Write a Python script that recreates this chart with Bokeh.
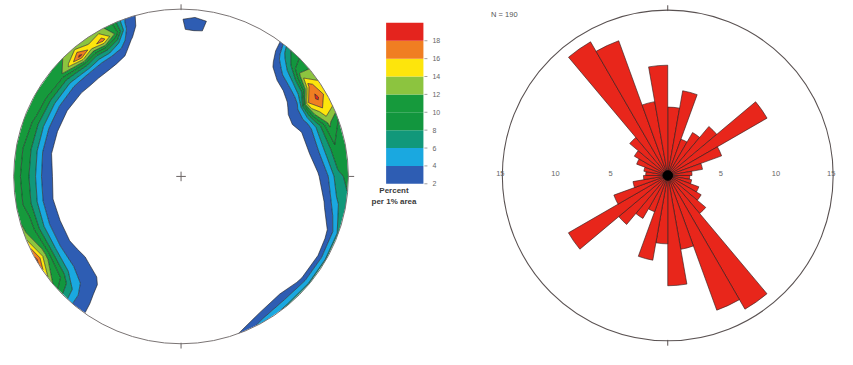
import numpy as np
from bokeh.plotting import figure
from bokeh.models import Range1d, ColumnDataSource
from bokeh.embed import file_html
from bokeh.resources import INLINE
from bokeh.core.properties import value

# ---------------- data ----------------
# Stereonet: density (percent per 1% area) sampled on a polar grid
NET_AZ = [0, 5, 10, 20, 35, 40, 45, 50, 55, 60, 65, 70, 80, 90, 100, 110, 120, 130,
          140, 150, 160, 170, 200, 210, 220, 230, 240, 250, 260, 270, 280, 290, 300,
          310, 315, 320, 325, 330, 335, 340, 345, 350]
NET_RHO = [0.60, 0.70, 0.76, 0.82, 0.88, 0.94, 1.00]
NET_DENSITY = [
    [0, 0, 0, 0, 1.9, 1.9, 0.2],      # 0
    [0, 0, 0, 0, 2.2, 2.6, 0.0],      # 5
    [0, 0, 0, 0, 1.9, 1.9, 0.2],      # 10
    [0, 0, 0, 0, 0, 0, 0],            # 20
    [0, 0, 0, 0, 0, 0, 0],            # 35
    [0, 0, 0.3, 1.2, 2.6, 5.0, 7.5],  # 40
    [0, 0, 0.7, 2.2, 5.0, 8.5, 10.0], # 45
    [0, 0.2, 1.0, 2.6, 6.5, 13.0, 12.0],  # 50
    [0, 0.5, 1.6, 3.2, 8.0, 17.0, 14.0],  # 55
    [0, 1.0, 2.5, 4.5, 16.0, 18.5, 15.0], # 60
    [0, 1.2, 2.6, 4.5, 12.0, 15.5, 14.0], # 65
    [0, 0.6, 1.8, 3.4, 7.5, 12.5, 10.0],  # 70
    [0, 0.3, 1.5, 3.0, 6.5, 9.5, 9.0],    # 80
    [0, 0, 0.5, 1.8, 4.0, 7.5, 8.5],      # 90
    [0, 0, 0, 0.8, 2.3, 5.5, 7.5],        # 100
    [0, 0, 0, 0, 1.0, 2.2, 6.5],          # 110
    [0, 0, 0, 0, 0.3, 1.6, 6.5],          # 120
    [0, 0, 0, 0, 0.5, 1.8, 6.5],          # 130
    [0, 0, 0, 0, 1.0, 2.6, 6.5],          # 140
    [0, 0, 0, 0, 0.5, 2.0, 5.0],          # 150
    [0, 0, 0, 0, 0, 0.5, 2.0],            # 160
    [0, 0, 0, 0, 0, 0, 0],                # 170
    [0, 0, 0, 0, 0, 0, 0],                # 200
    [0, 0, 0, 0, 0, 0.2, 0.3],            # 210
    [0, 0.6, 1.6, 2.6, 3.0, 3.4, 3.6],    # 220
    [0, 1.2, 2.2, 3.2, 6.0, 10.0, 12.0],  # 230
    [0, 0.8, 1.8, 3.2, 7.0, 12.5, 18.8],  # 240
    [0, 0.8, 1.8, 3.1, 6.5, 10.5, 12.5],  # 250
    [0, 0.6, 1.6, 3.0, 6.4, 9.5, 11.0],   # 260
    [0, 0.8, 1.8, 3.2, 6.6, 9.5, 11.0],   # 270
    [0, 0.4, 1.4, 2.8, 6.4, 9.5, 11.0],   # 280
    [0, 0.4, 1.4, 2.8, 6.3, 9.8, 11.5],   # 290
    [0, 0.4, 1.4, 2.8, 6.5, 10.5, 12.0],  # 300
    [0, 0.5, 1.6, 3.0, 6.8, 11.5, 12.0],  # 310
    [0, 0.6, 1.8, 3.3, 8.0, 14.5, 12.0],  # 315
    [0, 0.6, 1.8, 3.5, 9.0, 18.6, 13.0],  # 320
    [0, 0.6, 1.8, 3.4, 8.0, 15.0, 12.5],  # 325
    [0, 0.5, 1.6, 3.2, 8.5, 17.0, 13.0],  # 330
    [0, 0.2, 1.2, 2.6, 6.0, 12.0, 11.0],  # 335
    [0, 0, 0.3, 1.0, 2.2, 3.5, 4.2],      # 340
    [0, 0, 0, 0.3, 0.8, 1.2, 1.5],        # 345
    [0, 0, 0, 0, 0, 0, 0],                # 350
]
LEVELS = [2, 4, 6, 8, 10, 12, 14, 16, 18, 20]
LEVEL_LABELS = ["2", "4", "6", "8", "10", "12", "14", "16", "18"]
BAND_COLORS = ["#2e5db3", "#1aa8e0", "#11987a", "#12963e", "#169a3c",
               "#8cc43f", "#fde50c", "#f07e22", "#e4241e"]

# Rose diagram: percent per 10 degree bin, 0-180 (mirrored)
ROSE_BIN_START = [0, 10, 20, 30, 40, 50, 60, 70, 80, 90, 100, 110, 120, 130, 140, 150, 160, 170]
ROSE_VALUES = [6.2, 7.8, 3.5, 4.5, 5.8, 10.4, 5.2, 3.2, 2.2, 2.0, 2.2, 3.0, 3.5, 4.5,
               14.0, 13.0, 6.8, 10.0]
ROSE_RING_LABELS = [5, 10, 15]
ROSE_MAX = 15
N_LABEL = "N = 190"

# ---------------- layout ----------------
W, H = 837, 349
REF_W, REF_H = 853, 365
SX, SY = W / REF_W, H / REF_H
S = SY  # size scale


def fx(x):
    return np.asarray(x, dtype=float) * SX


def fy(y):
    return H - np.asarray(y, dtype=float) * SY


p = figure(width=W, height=H, output_backend="svg", toolbar_location=None,
           x_range=Range1d(0, W), y_range=Range1d(0, H),
           x_axis_location=None, y_axis_location=None, min_border=0)
p.outline_line_color = None
p.grid.visible = False
p.background_fill_color = "white"

FONT = value("Liberation Sans")

# ---------------- stereonet ----------------
ncx, ncy, nR = float(fx(184)), float(fy(184)), 175 * S
az = np.array(NET_AZ + [360], dtype=float)
z = np.array(NET_DENSITY + [NET_DENSITY[0]], dtype=float)
rho = np.array(NET_RHO)
A, RH = np.meshgrid(np.radians(az), rho, indexing="ij")
X = ncx + nR * RH * np.sin(A)
Y = ncy + nR * RH * np.cos(A)
p.contour(X, Y, z, levels=LEVELS, fill_color=BAND_COLORS,
          line_color="#1c1c1c", line_width=0.6)

p.circle(x=[ncx], y=[ncy], radius=nR, fill_color=None, line_color="#7a7474", line_width=1)
tk = 5 * S
p.segment(x0=[ncx, ncx + nR, ncx, ncx - tk, ncx],
          y0=[ncy + nR - 1, ncy, ncy - nR + 1, ncy, ncy - tk],
          x1=[ncx, ncx + nR + tk + 1, ncx, ncx + tk, ncx],
          y1=[ncy + nR + tk, ncy, ncy - nR - tk, ncy, ncy + tk],
          line_color="#6a6464", line_width=1)

# ---------------- colour bar ----------------
cb_x0, cb_x1 = float(fx(393)), float(fx(431))
cb_y0, cb_step = float(fy(191.7)), 9.35 * S
lev = np.array(LEVELS, dtype=float)
bottoms = cb_y0 + (lev[:-1] - LEVELS[0]) * cb_step
tops = cb_y0 + (lev[1:] - LEVELS[0]) * cb_step
p.quad(left=cb_x0, right=cb_x1, bottom=bottoms, top=tops, fill_color=BAND_COLORS, line_color=None)
tick_y = bottoms
p.segment(x0=cb_x1 + 1, x1=cb_x1 + 4, y0=tick_y, y1=tick_y, line_color="#888888", line_width=0.8)
p.text(x=cb_x1 + 9, y=tick_y, text=LEVEL_LABELS, text_font=FONT, text_font_size="7px",
       text_color="#666666", text_align="left", text_baseline="middle")
p.text(x=fx([401, 401]), y=fy([199, 210.5]), text=["Percent", "per 1% area"], text_font=FONT,
       text_font_size="8px", text_font_style="bold", text_color="#3a3a3a",
       text_align="center", text_baseline="middle")

# ---------------- rose diagram ----------------
rcx, rcy, rR = float(fx(680)), float(fy(183)), 173 * S
scale = rR / ROSE_MAX
starts = np.array(ROSE_BIN_START + [s + 180 for s in ROSE_BIN_START], dtype=float)
vals = np.array(ROSE_VALUES + ROSE_VALUES, dtype=float)
rose = ColumnDataSource(dict(
    r=vals * scale,
    start=np.radians(90 - (starts + 10)),
    end=np.radians(90 - starts),
))
p.wedge(x=rcx, y=rcy, radius="r", start_angle="start", end_angle="end",
        source=rose, fill_color="#e8261b", line_color="#2a1a1a", line_width=0.6)
p.circle(x=[rcx], y=[rcy], radius=5 * S, fill_color="black", line_color="black")
p.circle(x=[rcx], y=[rcy], radius=rR, fill_color=None, line_color="#5a5252", line_width=1.1)
p.segment(x0=[rcx, rcx], y0=[rcy + rR - 1, rcy - rR + 1], x1=[rcx, rcx],
          y1=[rcy + rR + tk, rcy - rR - tk], line_color="#5a5252", line_width=1)

ring = np.array(ROSE_RING_LABELS, dtype=float)
lab_x = np.concatenate([rcx - ring * scale, rcx + ring * scale]) - 2
lab_t = [str(v) for v in ROSE_RING_LABELS] * 2
p.text(x=lab_x, y=[float(fy(181))] * len(lab_x), text=lab_t, text_font=FONT,
       text_font_size="7.5px", text_color="#666666", text_align="center", text_baseline="middle")
p.text(x=fx([500]), y=fy([15]), text=[N_LABEL], text_font=FONT, text_font_size="7.5px",
       text_color="#555555", text_align="left", text_baseline="middle")

open("out.html", "w").write(file_html(p, INLINE))
